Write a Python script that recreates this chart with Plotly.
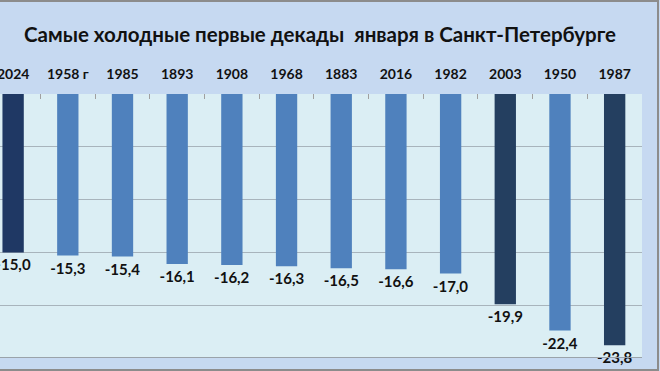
import plotly.graph_objects as go

years = ["2024", "1958 г", "1985", "1893", "1908", "1968", "1883", "2016", "1982", "2003", "1950", "1987"]
temps = [-15.0, -15.3, -15.4, -16.1, -16.2, -16.3, -16.5, -16.6, -17.0, -19.9, -22.4, -23.8]
bar_colors = ["#1f3864", "#4f81bd", "#4f81bd", "#4f81bd", "#4f81bd", "#4f81bd",
              "#4f81bd", "#4f81bd", "#4f81bd", "#243f60", "#4f81bd", "#243f60"]
title_text = "Самые холодные первые декады  января в Санкт-Петербурге"
grid_vals = [-5, -10, -15, -20, -25]

labels = [f"{v:.1f}".replace(".", ",") for v in temps]

W, H = 660, 371
L, R, T, B = 0, 18, 94, 13
pw, ph = W - L - R, H - T - B

fig = go.Figure(go.Bar(
    x=years, y=temps, marker=dict(color=bar_colors, line=dict(width=0)),
    text=labels, textposition="outside", cliponaxis=False,
    textfont=dict(family="Lato", size=15, color="#111111", weight="bold"),
    width=0.39, hoverinfo="skip",
))

fig.update_layout(
    width=W, height=H,
    margin=dict(l=L, r=R, t=T, b=B, autoexpand=False),
    paper_bgcolor="#c6d9f1", plot_bgcolor="#dbeef4",
    title=dict(text=title_text, x=320 / W, xanchor="center", xref="container",
               y=1 - 35 / H, yanchor="middle", automargin=False,
               font=dict(family="Lato", size=20.5, color="#111111", weight="bold")),
    showlegend=False,
    font=dict(family="Lato"),
)
fig.update_traces(constraintext="none")
fig.update_xaxes(
    type="category", side="top", range=[-0.24, 11.5], automargin=False,
    tickson="boundaries", ticks="inside", ticklen=5, tickcolor="#a0a0a0",
    showgrid=False, showline=False, ticklabelstandoff=11,
    tickfont=dict(family="Lato", size=14, color="#111111", weight="bold"),
)
fig.update_yaxes(
    range=[-25, 0], tickvals=grid_vals, showticklabels=False, automargin=False,
    showgrid=True, gridcolor="#a8b4bc", gridwidth=1, zeroline=False, showline=False,
)
fig.add_shape(type="rect", xref="paper", yref="paper",
              x0=-0.05, x1=(658 - L) / pw, y0=(T + ph - 370) / ph, y1=(T + ph - 1) / ph,
              line=dict(color="#8c8c8c", width=2), fillcolor="rgba(0,0,0,0)", layer="above")
fig.add_shape(type="line", xref="paper", yref="y", x0=0, x1=1, y0=-25, y1=-25,
              line=dict(color="#9aa3aa", width=2))

fig.write_html("out.html", config={"displayModeBar": False, "staticPlot": True},
               post_script="document.body.style.margin='0';document.body.style.overflow='hidden';")
